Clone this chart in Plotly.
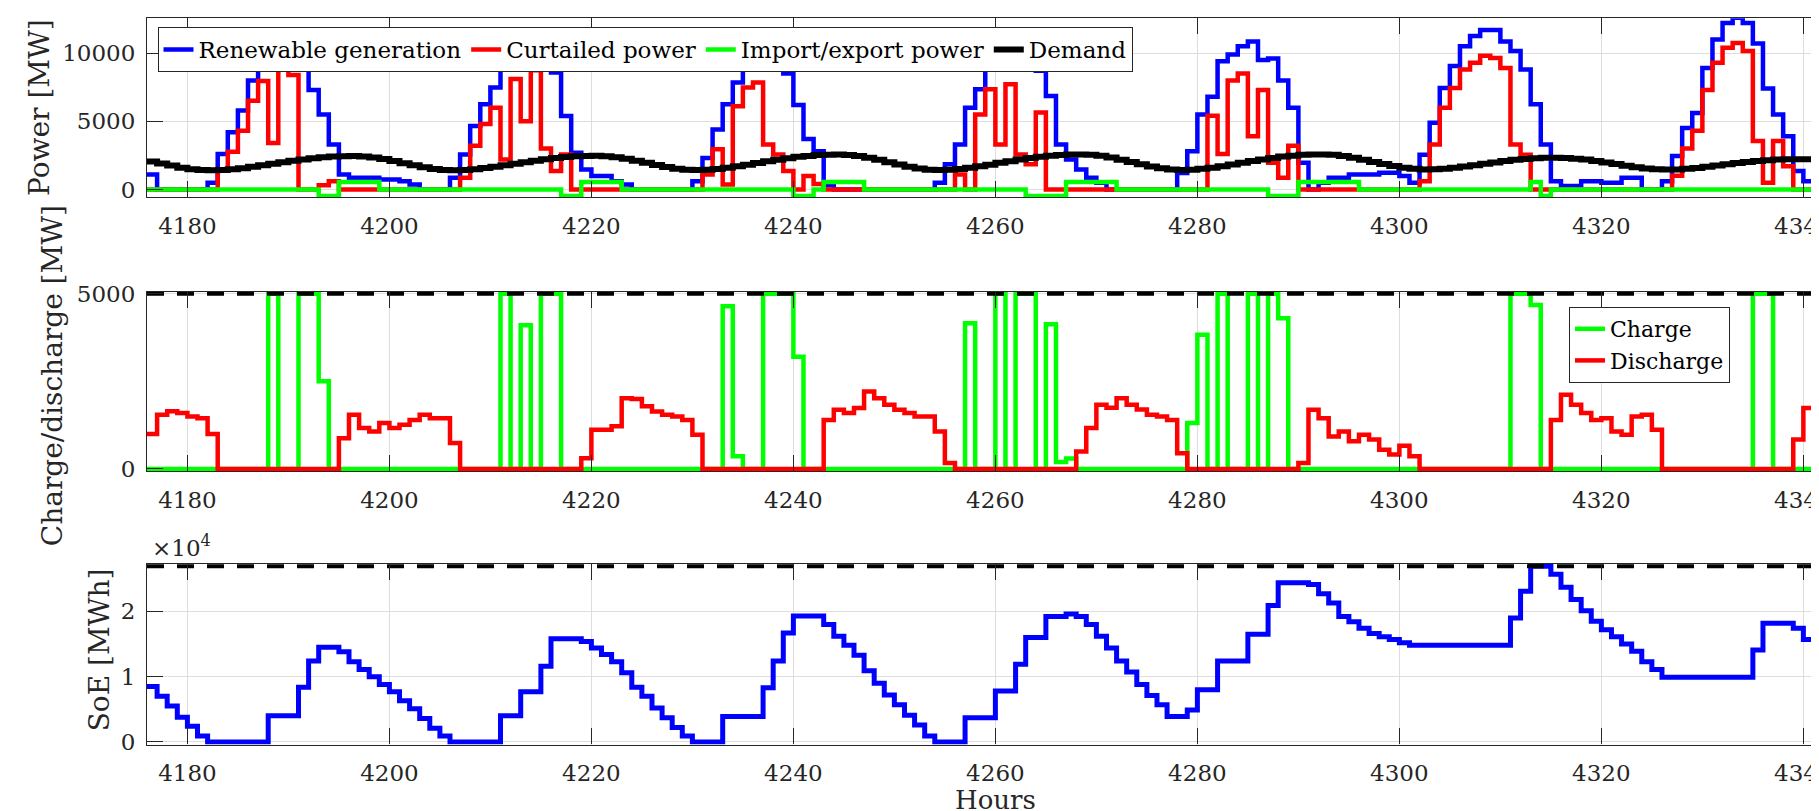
import plotly.graph_objects as go

# ---------------- data (hourly, stairs) ----------------
hours = list(range(4176, 4344))

renewable = [
    1100, 0, 0, 0, 0, 0, 500, 2600, 4200, 5800, 8000, 9900, 10500, 11000, 10700, 9000, 7300, 5500, 3300, 1100, 860, 860, 860, 735,
    735, 610, 370, 0, 0, 0, 850, 2570, 4650, 6250, 7470, 9200, 10100, 11000, 10800, 10200, 8575, 5390, 2700, 1470, 980, 980, 600, 370,
    0, 0, 0, 0, 0, 0, 600, 2300, 4400, 6250, 7840, 9400, 9900, 10400, 9800, 8500, 6200, 3700, 2800, 300, 0, 0, 0, 0,
    0, 0, 0, 0, 0, 0, 490, 1840, 3300, 6000, 7350, 8900, 9800, 10000, 9900, 9700, 8700, 6860, 3300, 2200, 1470, 860, 500, 0,
    0, 0, 0, 0, 0, 0, 1200, 2800, 5500, 6800, 9400, 9900, 10500, 10850, 9500, 9600, 8000, 6000, 1950, 0, 500, 850, 850, 1100,
    1100, 1100, 1220, 1220, 980, 500, 2550, 4900, 7450, 9050, 10500, 11250, 11700, 11700, 10850, 10150, 8800, 6250, 3300, 600, 250, 250, 600, 600,
    490, 490, 850, 850, 0, 0, 600, 2450, 4500, 5600, 8900, 11000, 12200, 12600, 12200, 10700, 7400, 5500, 3900, 1350, 600, 1200, 1200, 1200,
]
curtailed = [
    0, 0, 0, 0, 0, 0, 0, 1450, 2760, 4300, 6500, 7950, 3400, 9000, 8400, 0, 0, 300, 600, 0, 0, 0, 0, 0,
    0, 0, 0, 0, 0, 0, 0, 860, 3200, 4800, 6000, 2200, 8100, 5000, 8750, 3000, 1350, 2570, 0, 0, 0, 0, 0, 0,
    0, 0, 0, 0, 0, 0, 0, 1100, 2940, 370, 6100, 7470, 7840, 3300, 2570, 1350, 0, 980, 400, 0, 0, 0, 0, 0,
    0, 0, 0, 0, 0, 0, 0, 0, 1100, 0, 5500, 7350, 3300, 7720, 2570, 1840, 5640, 0, 0, 0, 0, 0, 0, 0,
    0, 0, 0, 0, 0, 0, 0, 0, 0, 5400, 2600, 8000, 8500, 3900, 7300, 1950, 850, 3200, 0, 0, 0, 0, 0, 0,
    0, 0, 0, 0, 0, 0, 600, 3300, 6000, 7450, 8800, 9300, 9800, 9650, 8900, 3300, 2550, 0, 0, 0, 0, 0, 0, 0,
    0, 0, 0, 0, 0, 0, 0, 1000, 3000, 4300, 7300, 9300, 10400, 10750, 10150, 3550, 500, 3550, 1700, 0, 0, 0, 0, 0,
]
import_export = [
    0, 0, 0, 0, 0, 0, 0, 0, 0, 0, 0, 0, 0, 0, 0, 0, 0, -480, -480, 550, 550, 550, 550, 0,
    0, 0, 0, 0, 0, 0, 0, 0, 0, 0, 0, 0, 0, 0, 0, 0, 0, -480, -480, 550, 550, 550, 550, 0,
    0, 0, 0, 0, 0, 0, 0, 0, 0, 0, 0, 0, 0, 0, 0, 0, -480, -480, 0, 550, 550, 550, 550, 0,
    0, 0, 0, 0, 0, 0, 0, 0, 0, 0, 0, 0, 0, 0, 0, -480, -480, -480, -480, 550, 550, 550, 550, 550,
    0, 0, 0, 0, 0, 0, 0, 0, 0, 0, 0, 0, 0, 0, 0, -480, -480, -480, 550, 550, 550, 550, 550, 550,
    0, 0, 0, 0, 0, 0, 0, 0, 0, 0, 0, 0, 0, 0, 0, 0, 0, 550, -480, 0, 0, 0, 0, 0,
    0, 0, 0, 0, 0, 0, 0, 0, 0, 0, 0, 0, 0, 0, 0, 0, 0, 0, 0, 0, 0, 0, 0, 0,
]
demand = [
    2050, 1900, 1750, 1600, 1480, 1420, 1400, 1420, 1480, 1560, 1660, 1770, 1880, 1990, 2100, 2200, 2290, 2360, 2410, 2440, 2450, 2420, 2350, 2230,
    2090, 1930, 1770, 1620, 1500, 1430, 1410, 1430, 1490, 1570, 1670, 1780, 1890, 2000, 2110, 2210, 2300, 2380, 2430, 2460, 2470, 2440, 2370, 2250,
    2100, 1950, 1790, 1640, 1520, 1440, 1420, 1440, 1500, 1590, 1700, 1820, 1940, 2060, 2180, 2290, 2390, 2460, 2520, 2550, 2560, 2530, 2460, 2330,
    2170, 2000, 1830, 1670, 1540, 1450, 1420, 1440, 1500, 1590, 1700, 1820, 1950, 2070, 2190, 2300, 2400, 2470, 2530, 2560, 2570, 2540, 2470, 2340,
    2180, 2010, 1840, 1680, 1550, 1460, 1430, 1450, 1510, 1600, 1710, 1830, 1960, 2080, 2200, 2310, 2410, 2480, 2540, 2570, 2570, 2540, 2460, 2330,
    2170, 2010, 1860, 1720, 1600, 1510, 1470, 1480, 1520, 1590, 1680, 1780, 1880, 1980, 2080, 2170, 2240, 2290, 2320, 2330, 2310, 2260, 2190, 2090,
    1980, 1860, 1740, 1630, 1540, 1480, 1460, 1470, 1510, 1580, 1660, 1750, 1850, 1940, 2020, 2090, 2150, 2190, 2210, 2220, 2220, 2210, 2190, 2180,
]
charge = [
    0, 0, 0, 0, 0, 0, 0, 0, 0, 0, 0, 0, 5000, 0, 0, 5000, 5000, 2500, 0, 0, 0, 0, 0, 0,
    0, 0, 0, 0, 0, 0, 0, 0, 0, 0, 0, 5000, 0, 4100, 0, 5000, 5000, 0, 0, 0, 0, 0, 0, 0,
    0, 0, 0, 0, 0, 0, 0, 0, 0, 4640, 360, 0, 0, 5000, 5000, 5000, 3200, 0, 0, 0, 0, 0, 0, 0,
    0, 0, 0, 0, 0, 0, 0, 0, 0, 4160, 0, 0, 5000, 0, 5000, 5000, 0, 4130, 200, 300, 0, 0, 0, 0,
    0, 0, 0, 0, 0, 0, 0, 1310, 3830, 0, 5000, 0, 0, 5000, 0, 5000, 4300, 0, 0, 0, 0, 0, 0, 0,
    0, 0, 0, 0, 0, 0, 0, 0, 0, 0, 0, 0, 0, 0, 0, 5000, 5000, 4680, 0, 0, 0, 0, 0, 0,
    0, 0, 0, 0, 0, 0, 0, 0, 0, 0, 0, 0, 0, 0, 0, 5000, 5000, 0, 0, 0, 0, 0, 0, 0,
]
discharge = [
    1000, 1550, 1650, 1600, 1500, 1450, 1000, 0, 0, 0, 0, 0, 0, 0, 0, 0, 0, 0, 0, 880, 1550, 1170, 1070, 1310,
    1170, 1260, 1400, 1550, 1450, 1450, 740, 0, 0, 0, 0, 0, 0, 0, 0, 0, 0, 0, 0, 310, 1120, 1120, 1220, 2020,
    2000, 1790, 1640, 1550, 1500, 1400, 980, 0, 0, 0, 0, 0, 0, 0, 0, 0, 0, 0, 0, 1400, 1690, 1600, 1740, 2210,
    2020, 1830, 1690, 1600, 1500, 1500, 1070, 170, 0, 0, 0, 0, 0, 0, 0, 0, 0, 0, 0, 0, 500, 1170, 1830, 1750,
    2020, 1830, 1700, 1550, 1500, 1400, 450, 0, 0, 0, 0, 0, 0, 0, 0, 0, 0, 0, 170, 1690, 1450, 930, 1070, 790,
    980, 840, 550, 410, 665, 360, 0, 0, 0, 0, 0, 0, 0, 0, 0, 0, 0, 0, 0, 1400, 2120, 1830, 1600, 1400,
    1450, 1070, 980, 1500, 1550, 1120, 0, 0, 0, 0, 0, 0, 0, 0, 0, 0, 0, 0, 0, 840, 1740, 1070, 1070, 1070,
]
soe = [
    8500, 7000, 5500, 3800, 2400, 900, 0, 0, 0, 0, 0, 0, 4000, 4000, 4000, 8400, 12400, 14500, 14500, 13800, 12300, 11100, 10000, 8800,
    7700, 6300, 5100, 3600, 2100, 900, 0, 0, 0, 0, 0, 4000, 4000, 7700, 7700, 11600, 15800, 15800, 15800, 15400, 14400, 13400, 12300, 10600,
    8400, 7000, 5200, 3700, 2200, 900, 0, 0, 0, 3900, 3900, 3900, 3900, 8300, 12400, 16700, 19300, 19300, 19300, 18000, 16200, 14800, 13300, 10900,
    9000, 7200, 5700, 4100, 2600, 900, 0, 0, 0, 3700, 3700, 3700, 7800, 7800, 11900, 16000, 16000, 19200, 19200, 19600, 19200, 18000, 16200, 14400,
    12400, 10700, 8800, 7100, 5700, 3900, 3900, 4900, 8000, 8000, 12400, 12400, 12400, 16500, 16500, 20900, 24400, 24400, 24400, 24100, 22700, 21300, 19200, 18400,
    17400, 16600, 16100, 15700, 15200, 14800, 14800, 14800, 14800, 14800, 14800, 14800, 14800, 14800, 14800, 19000, 23100, 26900, 26900, 25700, 23700, 21800, 20100, 18500,
    17200, 16100, 15000, 13900, 12300, 11100, 9900, 9900, 9900, 9900, 9900, 9900, 9900, 9900, 9900, 14100, 18200, 18200, 18200, 17400, 15700, 14600, 13600, 12600,
]
P_MAX = 5000          # converter limit [MW]
E_MAX = 26900         # storage capacity [MWh]
x_ticks = [4180, 4200, 4220, 4240, 4260, 4280, 4300, 4320, 4340]
x_tick_text = ["4180", "4200", "4220", "4240", "4260", "4280", "4300", "4320", "4340"]
power_ticks = [0, 5000, 10000]
power_tick_text = ["0", "5000", "10000"]
cd_ticks = [0, 5000]
cd_tick_text = ["0", "5000"]
soe_ticks = [0, 10000, 20000]
soe_tick_text = ["0", "1", "2"]

for s in (renewable, curtailed, import_export, demand, charge, discharge, soe):
    assert len(s) == len(hours)

# ---------------- styling ----------------
FONT = "DejaVu Serif"
AX = "#262626"
GRID = "#dedede"
BLUE, RED, GREEN, BLACK = "#0000ff", "#ff0000", "#00ff00", "#000000"
W, H = 1819, 811
X_RANGE = [4176, 4342.34]

fig = go.Figure()


def stairs(y, color, width, name, xa, ya, legend="legend", showlegend=True):
    fig.add_trace(go.Scatter(
        x=hours, y=y, mode="lines", line=dict(color=color, width=width, shape="hv"),
        name=name, xaxis=xa, yaxis=ya, legend=legend, showlegend=showlegend))


# top panel
stairs(renewable, BLUE, 4.5, "Renewable generation", "x", "y")
stairs(curtailed, RED, 4.5, "Curtailed power", "x", "y")
stairs(import_export, GREEN, 4.5, "Import/export power", "x", "y")
stairs(demand, BLACK, 6, "Demand", "x", "y")

# middle panel
stairs(charge, GREEN, 4.5, "Charge", "x2", "y2", legend="legend2")
stairs(discharge, RED, 4.5, "Discharge", "x2", "y2", legend="legend2")
fig.add_trace(go.Scatter(x=[hours[0], hours[-1]], y=[P_MAX, P_MAX], mode="lines",
                         line=dict(color=BLACK, width=4, dash="17px,13px"),
                         xaxis="x2", yaxis="y2", showlegend=False))

# bottom panel
stairs(soe, BLUE, 5, "SoE", "x3", "y3", showlegend=False)
fig.add_trace(go.Scatter(x=[hours[0], hours[-1]], y=[E_MAX, E_MAX], mode="lines",
                         line=dict(color=BLACK, width=4, dash="17px,13px"),
                         xaxis="x3", yaxis="y3", showlegend=False))

tickfont = dict(family=FONT, size=23, color=AX)


def xaxis_cfg(anchor):
    return dict(anchor=anchor, domain=[0, 1], range=X_RANGE, tickmode="array",
                tickvals=x_ticks, ticktext=x_tick_text, ticks="inside", ticklen=16,
                tickwidth=1, tickcolor=AX, showline=True, linecolor=AX, linewidth=1.2,
                mirror="ticks", showgrid=True, gridcolor=GRID, gridwidth=1,
                zeroline=False, tickfont=tickfont, ticklabelstandoff=8,
                ticklabeloverflow="allow", automargin=False)


def yaxis_cfg(anchor, dom, rng, tv, tt):
    return dict(anchor=anchor, domain=dom, range=rng, tickmode="array", tickvals=tv,
                ticktext=tt, ticks="inside", ticklen=16, tickwidth=1, tickcolor=AX,
                showline=True, linecolor=AX, linewidth=1.2, mirror=False, showgrid=True,
                gridcolor=GRID, gridwidth=1, zeroline=False, tickfont=tickfont,
                ticklabelstandoff=6, ticklabeloverflow="allow", automargin=False)


fig.update_layout(
    width=W, height=H,
    margin=dict(l=139, r=0, t=0, b=0, pad=0),
    paper_bgcolor="white", plot_bgcolor="white",
    font=dict(family=FONT, color=AX),
    xaxis=xaxis_cfg("y"),
    xaxis2=xaxis_cfg("y2"),
    xaxis3=xaxis_cfg("y3"),
    yaxis=yaxis_cfg("x", [0.76683, 0.98742], [-560, 12560], power_ticks, power_tick_text),
    yaxis2=yaxis_cfg("x2", [0.42898, 0.65031], [-60, 5060], cd_ticks, cd_tick_text),
    yaxis3=yaxis_cfg("x3", [0.09174, 0.31480], [-400, 27300], soe_ticks, soe_tick_text),
    legend=dict(orientation="h", x=0.00625, y=0.97657, xanchor="left", yanchor="top",
                bgcolor="white", bordercolor=AX, borderwidth=1,
                font=dict(family=FONT, size=23, color=BLACK), itemwidth=30,
                tracegroupgap=0),
    legend2=dict(orientation="v", x=0.84643, y=0.63132, xanchor="left", yanchor="top",
                 bgcolor="white", bordercolor=AX, borderwidth=1,
                 font=dict(family=FONT, size=22, color=BLACK), itemwidth=30),
    showlegend=True,
)

title_font = dict(family=FONT, size=28, color=AX)
fig.add_annotation(text="Power [MW]", x=-0.06369, y=0.8767, xref="paper", yref="paper",
                   textangle=-90, showarrow=False, font=title_font,
                   xanchor="center", yanchor="middle")
fig.add_annotation(text="Charge/discharge [MW]", x=-0.0565, y=0.5460, xref="paper",
                   yref="paper", textangle=-90, showarrow=False, font=title_font,
                   xanchor="center", yanchor="middle")
fig.add_annotation(text="SoE [MWh]", x=-0.02857, y=0.2080, xref="paper", yref="paper",
                   textangle=-90, showarrow=False, font=title_font,
                   xanchor="center", yanchor="middle")
fig.add_annotation(text="Hours", x=0.5048, y=0.0240, xref="paper", yref="paper",
                   showarrow=False, font=dict(family=FONT, size=26, color=AX),
                   xanchor="center", yanchor="middle", borderpad=0)
fig.add_annotation(text="×10<sup>4</sup>", x=0.0018, y=0.3366, xref="paper", yref="paper",
                   showarrow=False, font=dict(family=FONT, size=23, color=AX),
                   xanchor="left", yanchor="middle")

fig.write_html("out.html")
